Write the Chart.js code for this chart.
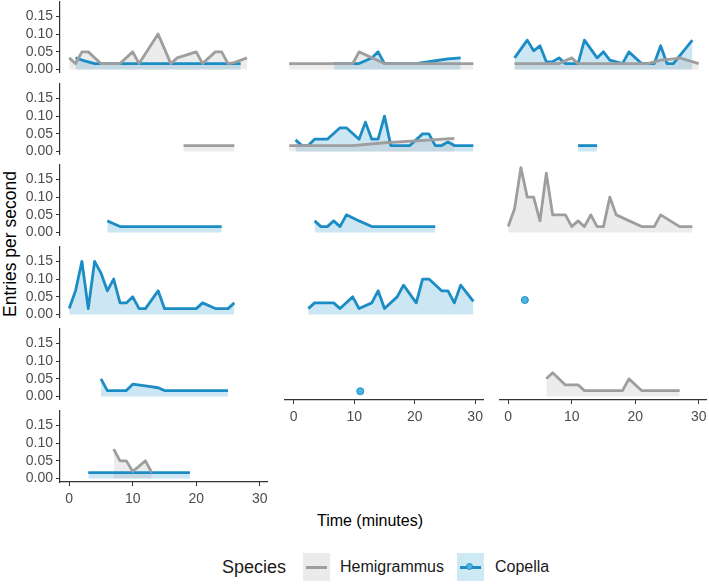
<!DOCTYPE html>
<html>
<head>
<meta charset="utf-8">
<script src="https://cdn.jsdelivr.net/npm/chart.js@4/dist/chart.umd.min.js"></script>
<style>
  body { margin: 0; background: #fff; font-family: "Liberation Sans", Arial, sans-serif; }
  #wrap { position: relative; width: 709px; height: 585px; overflow: hidden; }
  #wrap canvas { position: absolute; }
  .ytitle { position: absolute; left: 10px; top: 244px; transform: translate(-50%, -50%) rotate(-90deg); font-size: 17.5px; color: #000; white-space: nowrap; }
  .xtitle { position: absolute; left: 370px; top: 521px; transform: translate(-50%, -50%); font-size: 16px; color: #000; white-space: nowrap; }
  .lg { position: absolute; top: 567px; transform: translateY(-50%); color: #1a1a1a; white-space: nowrap; font-size: 16px; }
  .key { position: absolute; top: 553px; width: 27px; height: 28px; }
  .key .ln { position: absolute; left: 3px; right: 3px; top: 12.5px; height: 3px; }
  .key .dot { position: absolute; left: 9px; top: 9.5px; width: 7px; height: 7px; border-radius: 50%; box-sizing: border-box; }
</style>
</head>
<body>
<div id="wrap">
  <div class="ytitle">Entries per second</div>
  <div class="xtitle">Time (minutes)</div>
  <span class="lg" style="left:222px;font-size:18px">Species</span>
  <div class="key" style="left:303px;background:#ebebeb"><div class="ln" style="background:#9e9e9e"></div></div>
  <span class="lg" style="left:340px">Hemigrammus</span>
  <div class="key" style="left:457px;background:#cde9f3"><div class="ln" style="background:#1b8dc4"></div><div class="dot" style="background:#4db3e6;border:1px solid #1b8dc4"></div></div>
  <span class="lg" style="left:495px">Copella</span>
</div>
<script>
const speciesNames = ['Hemigrammus', 'Copella'];
const timeTicks = [0, 10, 20, 30];
const rateTicks = [0, 0.05, 0.10, 0.15];

// one pair of arrays per facet: time (minutes) and entries per second
const p1HemiT = [0, 1, 2, 3, 5, 8, 10, 11, 14, 16, 17, 20, 21, 23, 24, 25, 26, 28];
const p1HemiV = [0.033, 0.017, 0.05, 0.05, 0.017, 0.017, 0.05, 0.017, 0.1, 0.017, 0.033, 0.05, 0.017, 0.05, 0.05, 0.017, 0.02, 0.033];
const p1CopT = [1, 2, 4, 27];
const p1CopV = [0.033, 0.027, 0.017, 0.017];

const p2HemiT = [0, 10, 11, 15, 29];
const p2HemiV = [0.017, 0.017, 0.05, 0.017, 0.017];
const p2CopT = [7, 10, 11, 12, 13, 14, 15, 20, 21, 23, 25, 27];
const p2CopV = [0.017, 0.017, 0.017, 0.025, 0.033, 0.05, 0.017, 0.017, 0.02, 0.025, 0.03, 0.033];

const p3HemiT = [1, 8, 10, 11, 22, 24, 26, 27, 30];
const p3HemiV = [0.017, 0.017, 0.033, 0.017, 0.017, 0.027, 0.03, 0.033, 0.017];
const p3CopT = [1, 3, 4, 5, 6, 7, 8, 9, 11, 12, 14, 15, 16, 18, 19, 21, 23, 24, 25, 26, 29];
const p3CopV = [0.033, 0.083, 0.053, 0.067, 0.022, 0.022, 0.033, 0.017, 0.017, 0.083, 0.033, 0.05, 0.027, 0.017, 0.05, 0.017, 0.017, 0.067, 0.017, 0.017, 0.083];

const p4HemiT = [18, 26];
const p4HemiV = [0.017, 0.017];

const p5HemiT = [0, 10, 15, 20, 26];
const p5HemiV = [0.017, 0.017, 0.025, 0.03, 0.037];
const p5CopT = [1, 2, 3, 4, 6, 8, 9, 11, 12, 13, 14, 15, 16, 19, 21, 22, 23, 24, 25, 26, 29];
const p5CopV = [0.033, 0.017, 0.017, 0.035, 0.035, 0.067, 0.067, 0.035, 0.083, 0.035, 0.035, 0.1, 0.017, 0.017, 0.05, 0.05, 0.017, 0.017, 0.027, 0.017, 0.017];

const p6CopT = [11, 12, 13, 14];
const p6CopV = [0.017, 0.017, 0.017, 0.017];

const p7CopT = [6, 7, 8, 24];
const p7CopV = [0.033, 0.025, 0.017, 0.017];

const p8CopT = [4, 5, 6, 7, 8, 9, 11, 13, 23];
const p8CopV = [0.033, 0.017, 0.017, 0.033, 0.017, 0.05, 0.033, 0.017, 0.017];

const p9HemiT = [0, 1, 2, 3, 4, 5, 6, 7, 9, 10, 11, 12, 13, 14, 15, 16, 17, 21, 23, 24, 27, 29];
const p9HemiV = [0.017, 0.067, 0.183, 0.1, 0.1, 0.033, 0.167, 0.05, 0.05, 0.017, 0.033, 0.017, 0.05, 0.017, 0.017, 0.1, 0.05, 0.017, 0.017, 0.05, 0.017, 0.017];

const p10CopT = [0, 1, 2, 3, 4, 5, 6, 7, 8, 9, 10, 11, 12, 14, 15, 20, 21, 23, 25, 26];
const p10CopV = [0.017, 0.067, 0.15, 0.017, 0.15, 0.117, 0.067, 0.1, 0.033, 0.033, 0.05, 0.017, 0.017, 0.067, 0.017, 0.017, 0.033, 0.017, 0.017, 0.033];

const p11CopT = [3, 4, 7, 8, 10, 11, 13, 14, 15, 17, 18, 20, 21, 22, 24, 25, 26, 27, 29];
const p11CopV = [0.017, 0.033, 0.033, 0.017, 0.05, 0.017, 0.033, 0.067, 0.017, 0.05, 0.083, 0.033, 0.1, 0.1, 0.067, 0.067, 0.033, 0.083, 0.037];

const p12CopT = [2];
const p12CopV = [0.033];

const p13CopT = [5, 6, 9, 10, 12, 14, 15, 25];
const p13CopV = [0.05, 0.017, 0.017, 0.035, 0.03, 0.025, 0.017, 0.017];

const p14CopT = [11];
const p14CopV = [0.017];

const p15HemiT = [6, 7, 9, 11, 12, 18, 19, 21, 27];
const p15HemiV = [0.05, 0.067, 0.033, 0.033, 0.017, 0.017, 0.05, 0.017, 0.017];

const p16HemiT = [7, 8, 9, 10, 12, 13];
const p16HemiV = [0.083, 0.05, 0.05, 0.02, 0.05, 0.017];
const p16CopT = [3, 19];
const p16CopV = [0.017, 0.017];

const panels = [
  { row: 0, col: 0, hemi: [p1HemiT, p1HemiV], cop: [p1CopT, p1CopV] },
  { row: 0, col: 1, hemi: [p2HemiT, p2HemiV], cop: [p2CopT, p2CopV] },
  { row: 0, col: 2, hemi: [p3HemiT, p3HemiV], cop: [p3CopT, p3CopV] },
  { row: 1, col: 0, hemi: [p4HemiT, p4HemiV] },
  { row: 1, col: 1, hemi: [p5HemiT, p5HemiV], cop: [p5CopT, p5CopV] },
  { row: 1, col: 2, cop: [p6CopT, p6CopV] },
  { row: 2, col: 0, cop: [p7CopT, p7CopV] },
  { row: 2, col: 1, cop: [p8CopT, p8CopV] },
  { row: 2, col: 2, hemi: [p9HemiT, p9HemiV] },
  { row: 3, col: 0, cop: [p10CopT, p10CopV] },
  { row: 3, col: 1, cop: [p11CopT, p11CopV] },
  { row: 3, col: 2, cop: [p12CopT, p12CopV] },
  { row: 4, col: 0, cop: [p13CopT, p13CopV] },
  { row: 4, col: 1, cop: [p14CopT, p14CopV], xAxis: true },
  { row: 4, col: 2, hemi: [p15HemiT, p15HemiV], xAxis: true },
  { row: 5, col: 0, hemi: [p16HemiT, p16HemiV], cop: [p16CopT, p16CopV], xAxis: true }
];

const colLeft = [60, 280, 499];
const rowTop = [1, 83, 164, 246, 328, 410];
const panelW = 208, panelH = 72, yAxisW = 60, xAxisH = 30;
const xMin = -1.45, xMax = 31.3, yMin = -0.0095, yMax = 0.1931;

const hemiLine = '#9e9e9e', hemiFill = 'rgba(160,160,160,0.2)';
const copLine = '#1b8dc4', copFill = 'rgba(26,140,200,0.22)';
const axisColor = '#333333';
const tickFont = { family: '"Liberation Sans", Arial, sans-serif', size: 14 };

function makeSet(name, pair, line, fill) {
  const [t, v] = pair;
  const single = t.length === 1;
  return {
    label: name,
    data: t.map((x, i) => ({ x, y: v[i] })),
    borderColor: line,
    backgroundColor: fill,
    borderWidth: 2.8,
    borderJoinStyle: 'round',
    borderCapStyle: 'butt',
    fill: 'origin',
    tension: 0,
    pointRadius: single ? 3.5 : 0,
    pointBackgroundColor: '#4db3e6',
    pointBorderColor: line,
    pointBorderWidth: 1
  };
}

const wrap = document.getElementById('wrap');

panels.forEach(p => {
  const showY = p.col === 0;
  const showX = !!p.xAxis;
  const canvas = document.createElement('canvas');
  const w = panelW + (showY ? yAxisW : 0);
  const h = panelH + (showX ? xAxisH : 0);
  canvas.width = w;
  canvas.height = h;
  canvas.style.width = w + 'px';
  canvas.style.height = h + 'px';
  canvas.style.left = (colLeft[p.col] - (showY ? yAxisW : 0)) + 'px';
  canvas.style.top = rowTop[p.row] + 'px';
  wrap.appendChild(canvas);

  // Hemigrammus first so its line sits on top
  const datasets = [];
  if (p.hemi) datasets.push(makeSet(speciesNames[0], p.hemi, hemiLine, hemiFill));
  if (p.cop) datasets.push(makeSet(speciesNames[1], p.cop, copLine, copFill));

  new Chart(canvas.getContext('2d'), {
    type: 'line',
    data: { datasets },
    options: {
      responsive: false,
      maintainAspectRatio: false,
      animation: false,
      events: [],
      layout: { padding: 0 },
      plugins: {
        legend: { display: false },
        tooltip: { enabled: false },
        filler: { drawTime: 'beforeDatasetsDraw' }
      },
      scales: {
        x: {
          type: 'linear', min: xMin, max: xMax, display: showX,
          afterBuildTicks: s => { s.ticks = timeTicks.map(v => ({ value: v })); },
          afterFit: s => { if (showX) { s.height = xAxisH; s.paddingLeft = 0; s.paddingRight = 0; } },
          grid: { drawOnChartArea: false, tickLength: 4, color: axisColor, lineWidth: 1 },
          border: { display: true, color: axisColor, width: 1.2 },
          ticks: { font: tickFont, color: '#4d4d4d', padding: 5, maxRotation: 0, autoSkip: false }
        },
        y: {
          type: 'linear', min: yMin, max: yMax, display: showY,
          afterBuildTicks: s => { s.ticks = rateTicks.map(v => ({ value: v })); },
          afterFit: s => { if (showY) { s.width = yAxisW; s.paddingTop = 0; s.paddingBottom = 0; } },
          grid: { drawOnChartArea: false, tickLength: 4, color: axisColor, lineWidth: 1 },
          border: { display: true, color: axisColor, width: 1.2 },
          ticks: { font: tickFont, color: '#4d4d4d', padding: 3, autoSkip: false, callback: v => v.toFixed(2) }
        }
      }
    }
  });
});
</script>
</body>
</html>
